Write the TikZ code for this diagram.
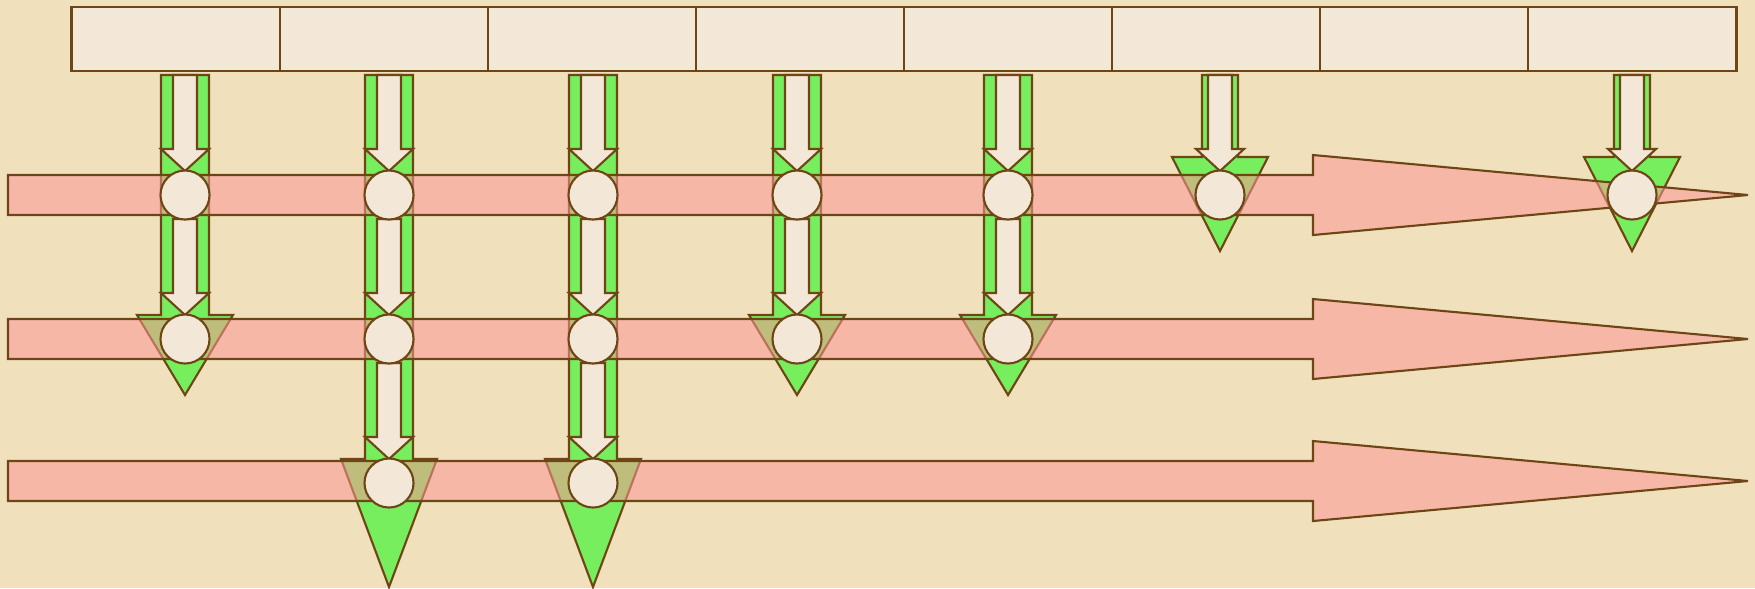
\documentclass[tikz,border=0pt]{standalone}
\usepackage{tikz}
\usetikzlibrary{positioning}
\definecolor{parchment}{RGB}{240,225,188}
\definecolor{outlinebrown}{RGB}{110,70,22}
\definecolor{cellfill}{RGB}{243,232,216}
\definecolor{arrowgreen}{RGB}{118,238,94}
\definecolor{bandpink}{RGB}{252,150,150}
\tikzset{
    cell/.style={rectangle, draw=outlinebrown, fill=cellfill, line width=0.6pt,
                 minimum width=2.08cm, minimum height=0.64cm, outer sep=0pt, inner sep=0pt},
    joint/.style={circle, draw=outlinebrown, fill=cellfill, line width=0.6pt,
                  minimum size=0.49cm, inner sep=0pt},
    greenarrow/.style={draw=outlinebrown, fill=arrowgreen, line width=0.6pt},
    innerarrow/.style={draw=outlinebrown, fill=cellfill, line width=0.6pt},
    band/.style={draw=outlinebrown, fill=bandpink, fill opacity=0.55, line width=0.6pt}
}

\begin{document}
\begin{tikzpicture}[x=0.01cm, y=-0.01cm]
    % background
    \fill[parchment] (0,0) rectangle (1755,588);

    % top row of cells
    \node[cell] (cell1) at (175.6,39) {};
    \foreach \i [remember=\i as \prev (initially 1)] in {2,...,8}
        \node[cell, right=0pt of cell\prev] (cell\i) {};

    % green block arrows: x / half shaft / head top / tip
    \foreach \x/\w/\yh/\yt in {185/24/315/395, 389/24/459/587, 593/24/459/587,
                               797/24/315/395, 1008/24/315/395,
                               1220/18/157/251, 1632/18/157/251}
        \draw[greenarrow] (\x-\w,75) -- (\x+\w,75) -- (\x+\w,\yh) -- (\x+48,\yh)
            -- (\x,\yt) -- (\x-48,\yh) -- (\x-\w,\yh) -- cycle;

    % inner arrows: x / top / tip
    \foreach \x/\t/\b in {185/75/171, 185/219/315,
                          389/75/171, 389/219/315, 389/363/459,
                          593/75/171, 593/219/315, 593/363/459,
                          797/75/171, 797/219/315,
                          1008/75/171, 1008/219/315,
                          1220/75/171, 1632/75/171}
        \draw[innerarrow] (\x-12,\t) -- (\x+12,\t) -- (\x+12,\b-22) -- (\x+24,\b-22)
            -- (\x,\b) -- (\x-24,\b-22) -- (\x-12,\b-22) -- cycle;

    % pink arrows
    \foreach \y in {195,339,481}
        \draw[band] (8,\y-20) -- (1313,\y-20) -- (1313,\y-40) -- (1748,\y)
            -- (1313,\y+40) -- (1313,\y+20) -- (8,\y+20) -- cycle;

    % joints
    \foreach \c/\x/\r/\y in {1/185/1/195, 1/185/2/339,
                             2/389/1/195, 2/389/2/339, 2/389/3/483,
                             3/593/1/195, 3/593/2/339, 3/593/3/483,
                             4/797/1/195, 4/797/2/339,
                             5/1008/1/195, 5/1008/2/339,
                             6/1220/1/195, 7/1632/1/195}
        \node[joint] (j\c\r) at (\x,\y) {};
\end{tikzpicture}
\end{document}
